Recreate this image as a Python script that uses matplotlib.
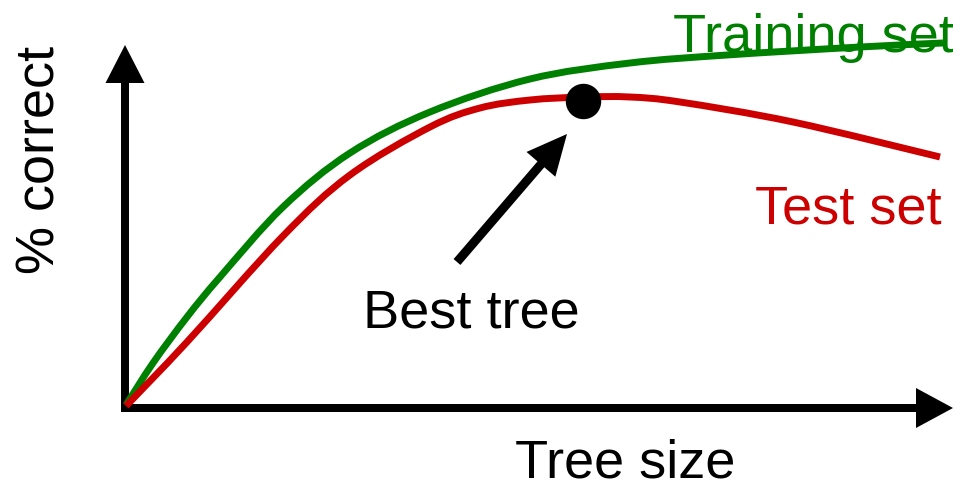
import matplotlib
matplotlib.use("Agg")
import matplotlib.pyplot as plt
from matplotlib.path import Path
from matplotlib.patches import PathPatch
import numpy as np

plt.rcParams['font.family'] = ['Liberation Sans', 'DejaVu Sans']

# Curves (tree size, % correct), arbitrary units
train_x = [1, 28, 62, 95, 158, 225, 305, 405, 505, 602, 735, 818]
train_y = [3, 45, 91, 131, 201, 255, 296, 329, 345, 353, 361, 365]

test_x = [1, 62, 158, 225, 305, 355, 405, 458, 505, 555, 668, 815]
test_y = [2, 66, 172, 233, 281, 300, 308, 311, 311, 306, 286, 251]

best_x = 458
best_y = 307

x_label = "Tree size"
y_label = "% correct"
train_label = "Training set"
test_label = "Test set"
best_label = "Best tree"

green = "#008000"
red = "#cc0000"


def smooth_path(xs, ys):
    # Catmull-Rom through the read points, written as cubic Bezier segments
    p = np.column_stack([xs, ys]).astype(float)
    ext = np.vstack([p[0], p, p[-1]])
    verts = [p[0]]
    codes = [Path.MOVETO]
    for i in range(1, len(ext) - 2):
        c1 = ext[i] + (ext[i + 1] - ext[i - 1]) / 6
        c2 = ext[i + 1] - (ext[i + 2] - ext[i]) / 6
        verts += [c1, c2, ext[i + 1]]
        codes += [Path.CURVE4] * 3
    return Path(verts, codes)


fig = plt.figure(figsize=(9.54, 4.87), dpi=100)
ax = fig.add_axes([0, 0, 1, 1])
ax.set_xlim(-125, 829)
ax.set_ylim(-79, 408)
ax.axis('off')

# axes drawn as thick arrows
ax.arrow(-4, 0, 832, 0, width=8, head_width=40, head_length=37,
         length_includes_head=True, color='black', lw=0)
ax.arrow(0, -4, 0, 367, width=8, head_width=39, head_length=38,
         length_includes_head=True, color='black', lw=0)

ax.add_patch(PathPatch(smooth_path(train_x, train_y), facecolor='none',
                       edgecolor=green, lw=5, capstyle='butt'))
ax.add_patch(PathPatch(smooth_path(test_x, test_y), facecolor='none',
                       edgecolor=red, lw=5, capstyle='butt'))
ax.plot([best_x], [best_y], 'o', color='black', markersize=24.5)

# pointer to the best tree
ax.arrow(332, 146, best_x - 16 - 332, best_y - 33 - 146, width=9, head_width=38,
         head_length=40, length_includes_head=True, color='black', lw=0)

fs = 39
ax.text(548, 356, train_label, color=green, fontsize=fs, ha='left', va='baseline')
ax.text(817, 185, test_label, color=red, fontsize=fs, ha='right', va='baseline')
ax.text(346, 81, best_label, color='black', fontsize=fs, ha='center', va='baseline')
ax.text(500, -69, x_label, color='black', fontsize=fs, ha='center', va='baseline')
ax.text(-70, 248, y_label, color='black', fontsize=fs, ha='center', va='baseline',
        rotation=90, rotation_mode='anchor')

fig.savefig("out.png", dpi=100)
